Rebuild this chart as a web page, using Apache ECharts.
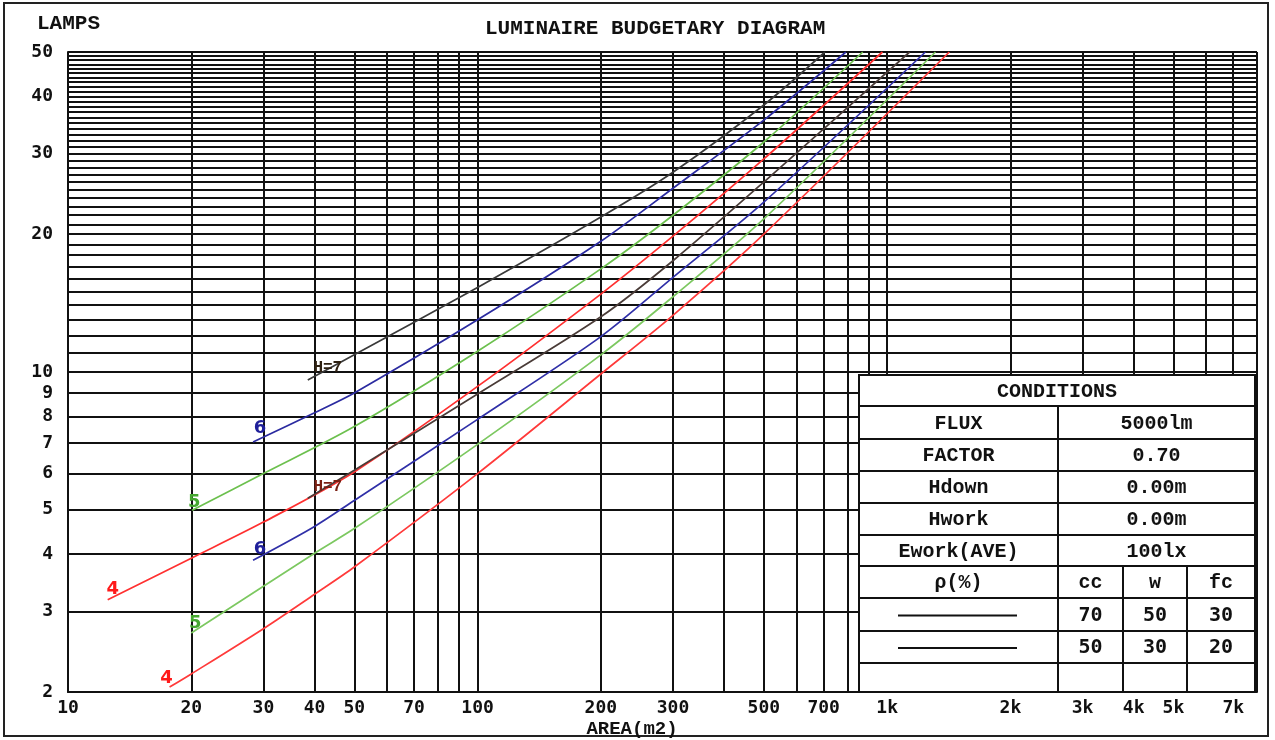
<!DOCTYPE html>
<html><head><meta charset="utf-8">
<script src="https://cdn.jsdelivr.net/npm/echarts@6/dist/echarts.min.js"></script>
<style>html,body{margin:0;padding:0;background:#fff}#c{width:1275px;height:740px}</style>
</head><body><div id="c"></div>
<script>
// ---- axis ticks ----
const xGridValues = [10,20,30,40,50,60,70,80,90,100,200,300,400,500,600,700,800,900,1000,2000,3000,4000,5000,6000,7000,8000];
const xLabelValues = [10,20,30,40,50,70,100,200,300,500,700,1000,2000,3000,4000,5000,7000];
const yGridValues = [2,3,4,5,6,7,8,9,10,11,12,13,14,15,16,17,18,19,20,21,22,23,24,25,26,27,28,29,30,31,32,33,34,35,36,37,38,39,40,41,42,43,44,45,46,47,48,49,50];
const yLabelValues = [2,3,4,5,6,7,8,9,10,20,30,40,50];

// ---- family A : cc70 / w50 / fc30 ----
const areaA7 = [38.5, 50, 100, 200, 300, 500, 705];
const lampsA7 = [9.6, 10.9, 15.3, 21.8, 27.3, 38.3, 50];
const areaA6 = [28.3, 40, 50, 100, 200, 300, 500, 793];
const lampsA6 = [7.03, 8.15, 9.0, 13.0, 19.3, 25.2, 35.5, 50];
const areaA5 = [20.1, 30, 50, 100, 200, 300, 500, 872];
const lampsA5 = [4.99, 6.0, 7.6, 11.1, 16.8, 22.0, 31.8, 50];
const areaA4 = [12.5, 20, 30, 50, 100, 200, 300, 500, 974];
const lampsA4 = [3.18, 3.92, 4.70, 6.05, 9.3, 14.8, 19.8, 29.2, 50];

// ---- family B : cc50 / w30 / fc20 ----
const areaB7 = [38.5, 50, 100, 200, 300, 500, 1135];
const lampsB7 = [5.30, 6.1, 8.95, 13.2, 17.5, 26.0, 50];
const areaB6 = [28.3, 40, 50, 100, 200, 300, 500, 1240];
const lampsB6 = [3.88, 4.6, 5.24, 7.88, 11.95, 16.1, 23.5, 50];
const areaB5 = [20, 40, 50, 100, 200, 300, 500, 1312];
const lampsB5 = [2.69, 4.02, 4.55, 6.95, 10.9, 14.6, 21.6, 50];
const areaB4 = [17.7, 20, 30, 40, 50, 100, 200, 300, 500, 1418];
const lampsB4 = [2.05, 2.19, 2.75, 3.27, 3.75, 6.0, 9.9, 13.3, 20.0, 50];

const curveLabels = ['H=7', '6', '5', '4'];

// ---- conditions table ----
const condRows = [['FLUX','5000lm'],['FACTOR','0.70'],['Hdown','0.00m'],['Hwork','0.00m'],['Ework(AVE)','100lx']];
const reflHeader = ['ρ(%)','cc','w','fc'];
const reflRows = [[70,50,30],[50,30,20]];

function pairs(xs, ys){ return xs.map((x,i)=>[x, ys[i]]); }

const curves = [
  {a:areaA7, l:lampsA7, color:'#3a3a3a', lab:0, lc:'#2e2010', off:[20,-12]},
  {a:areaA6, l:lampsA6, color:'#2b2ba0', lab:1, lc:'#1f1f9a', off:[7,-14]},
  {a:areaA5, l:lampsA5, color:'#6cc04e', lab:2, lc:'#45a830', off:[2,-8]},
  {a:areaA4, l:lampsA4, color:'#ff3030', lab:3, lc:'#ff1a1a', off:[5,-10]},
  {a:areaB7, l:lampsB7, color:'#4a3c38', lab:0, lc:'#7a1f12', off:[20,-11]},
  {a:areaB6, l:lampsB6, color:'#3030a8', lab:1, lc:'#1f1f9a', off:[7,-11]},
  {a:areaB5, l:lampsB5, color:'#7cc860', lab:2, lc:'#45a830', off:[4,-10]},
  {a:areaB4, l:lampsB4, color:'#ff3a3a', lab:3, lc:'#ff1a1a', off:[-3,-9]}
];

const series = curves.map(c => ({
  type:'line', data:pairs(c.a, c.l), showSymbol:false, symbol:'none',
  smooth:0.3, lineStyle:{color:c.color, width:1.7}, z:3, silent:true
}));
series.push({
  type:'scatter', symbolSize:2, itemStyle:{color:'rgba(0,0,0,0)', opacity:1}, z:6, silent:true,
  data: curves.map(c => ({
    value:[c.a[0], c.l[0]],
    label:{show:true, position:'inside', formatter:curveLabels[c.lab], offset:c.off, opacity:1,
      textBorderWidth:0, color:c.lc, fontFamily: c.lab===0 ? 'Liberation Mono' : 'DejaVu Sans',
      fontWeight:'bold', fontSize: c.lab===0 ? 16 : 18}
  }))
});

// ---- table graphics ----
const T = {l:859, r:1255, c1:1058, c2:1123, c3:1187, rows:[375,406,439,471,503,535,566,598,631,663,692]};
const tf = 'bold 20px "Liberation Mono"';
const g = [];
g.push({type:'rect', shape:{x:T.l, y:T.rows[0], width:T.r-T.l, height:T.rows[10]-T.rows[0]}, style:{fill:'#fff', stroke:'#111', lineWidth:2}, z:100});
T.rows.slice(1,10).forEach(y => g.push({type:'line', shape:{x1:T.l, y1:y, x2:T.r, y2:y}, style:{stroke:'#111', lineWidth:2}, z:101}));
g.push({type:'line', shape:{x1:T.c1, y1:T.rows[1], x2:T.c1, y2:T.rows[10]}, style:{stroke:'#111', lineWidth:2}, z:101});
[T.c2, T.c3].forEach(x => g.push({type:'line', shape:{x1:x, y1:T.rows[6], x2:x, y2:T.rows[10]}, style:{stroke:'#111', lineWidth:2}, z:101}));
function txt(s, x, y, font){ g.push({type:'text', x:x, y:y, style:{text:String(s), font:font||tf, fill:'#111', align:'center', verticalAlign:'middle'}, z:102}); }
const mid = i => (T.rows[i]+T.rows[i+1])/2 + 1;
txt('CONDITIONS', (T.l+T.r)/2, mid(0));
condRows.forEach((r,i) => { txt(r[0], (T.l+T.c1)/2, mid(i+1)); txt(r[1], (T.c1+T.r)/2, mid(i+1)); });
const subC = [(T.c1+T.c2)/2, (T.c2+T.c3)/2, (T.c3+T.r)/2];
txt(reflHeader[0], (T.l+T.c1)/2, mid(6));
reflHeader.slice(1).forEach((h,i) => txt(h, subC[i], mid(6)));
reflRows.forEach((row,ri) => {
  const y = mid(7+ri);
  g.push({type:'line', shape:{x1:898, y1:y, x2:1017, y2:y}, style:{stroke:'#111', lineWidth:2}, z:102});
  row.forEach((v,i) => txt(v, subC[i], y, 'bold 20px "DejaVu Sans Mono"'));
});
// outer frame and axis caption texts
g.push({type:'rect', shape:{x:4, y:3, width:1264, height:733}, style:{fill:'none', stroke:'#222', lineWidth:2}, z:90});
g.push({type:'text', x:37, y:24, style:{text:'LAMPS', font:'bold 21px "Liberation Mono"', fill:'#111', align:'left', verticalAlign:'middle'}, z:90});
g.push({type:'text', x:632, y:729, style:{text:'AREA(m2)', font:'bold 19px "Liberation Mono"', fill:'#111', align:'center', verticalAlign:'middle'}, z:90});

const chart = echarts.init(document.getElementById('c'), null, {renderer:'canvas'});
chart.setOption({
  animation:false,
  backgroundColor:'#fff',
  title:{text:'LUMINAIRE BUDGETARY DIAGRAM', left:480, top:13,
    textStyle:{fontFamily:'Liberation Mono', fontWeight:'bold', fontSize:21, color:'#111'}},
  grid:{left:68, right:18, top:52, bottom:48, containLabel:false, outerBoundsMode:'none'},
  xAxis:{type:'log', logBase:10, min:10, max:8000,
    axisLine:{show:true, onZero:false, lineStyle:{color:'#111', width:2}},
    axisTick:{show:false, customValues:xGridValues},
    axisLabel:{customValues:xLabelValues, margin:7, color:'#111', fontFamily:'DejaVu Sans Mono', fontWeight:'bold', fontSize:18,
      formatter: v => v >= 1000 ? (v/1000)+'k' : String(v)},
    splitLine:{show:true, lineStyle:{color:'#111', width:2}}},
  yAxis:{type:'log', logBase:10, min:2, max:50,
    axisLine:{show:true, onZero:false, lineStyle:{color:'#111', width:2}},
    axisTick:{show:false, customValues:yGridValues},
    axisLabel:{customValues:yLabelValues, margin:15, color:'#111', fontFamily:'DejaVu Sans Mono', fontWeight:'bold', fontSize:18},
    splitLine:{show:true, lineStyle:{color:'#111', width:1.8}}},
  series:series,
  graphic:g
});
</script></body></html>
